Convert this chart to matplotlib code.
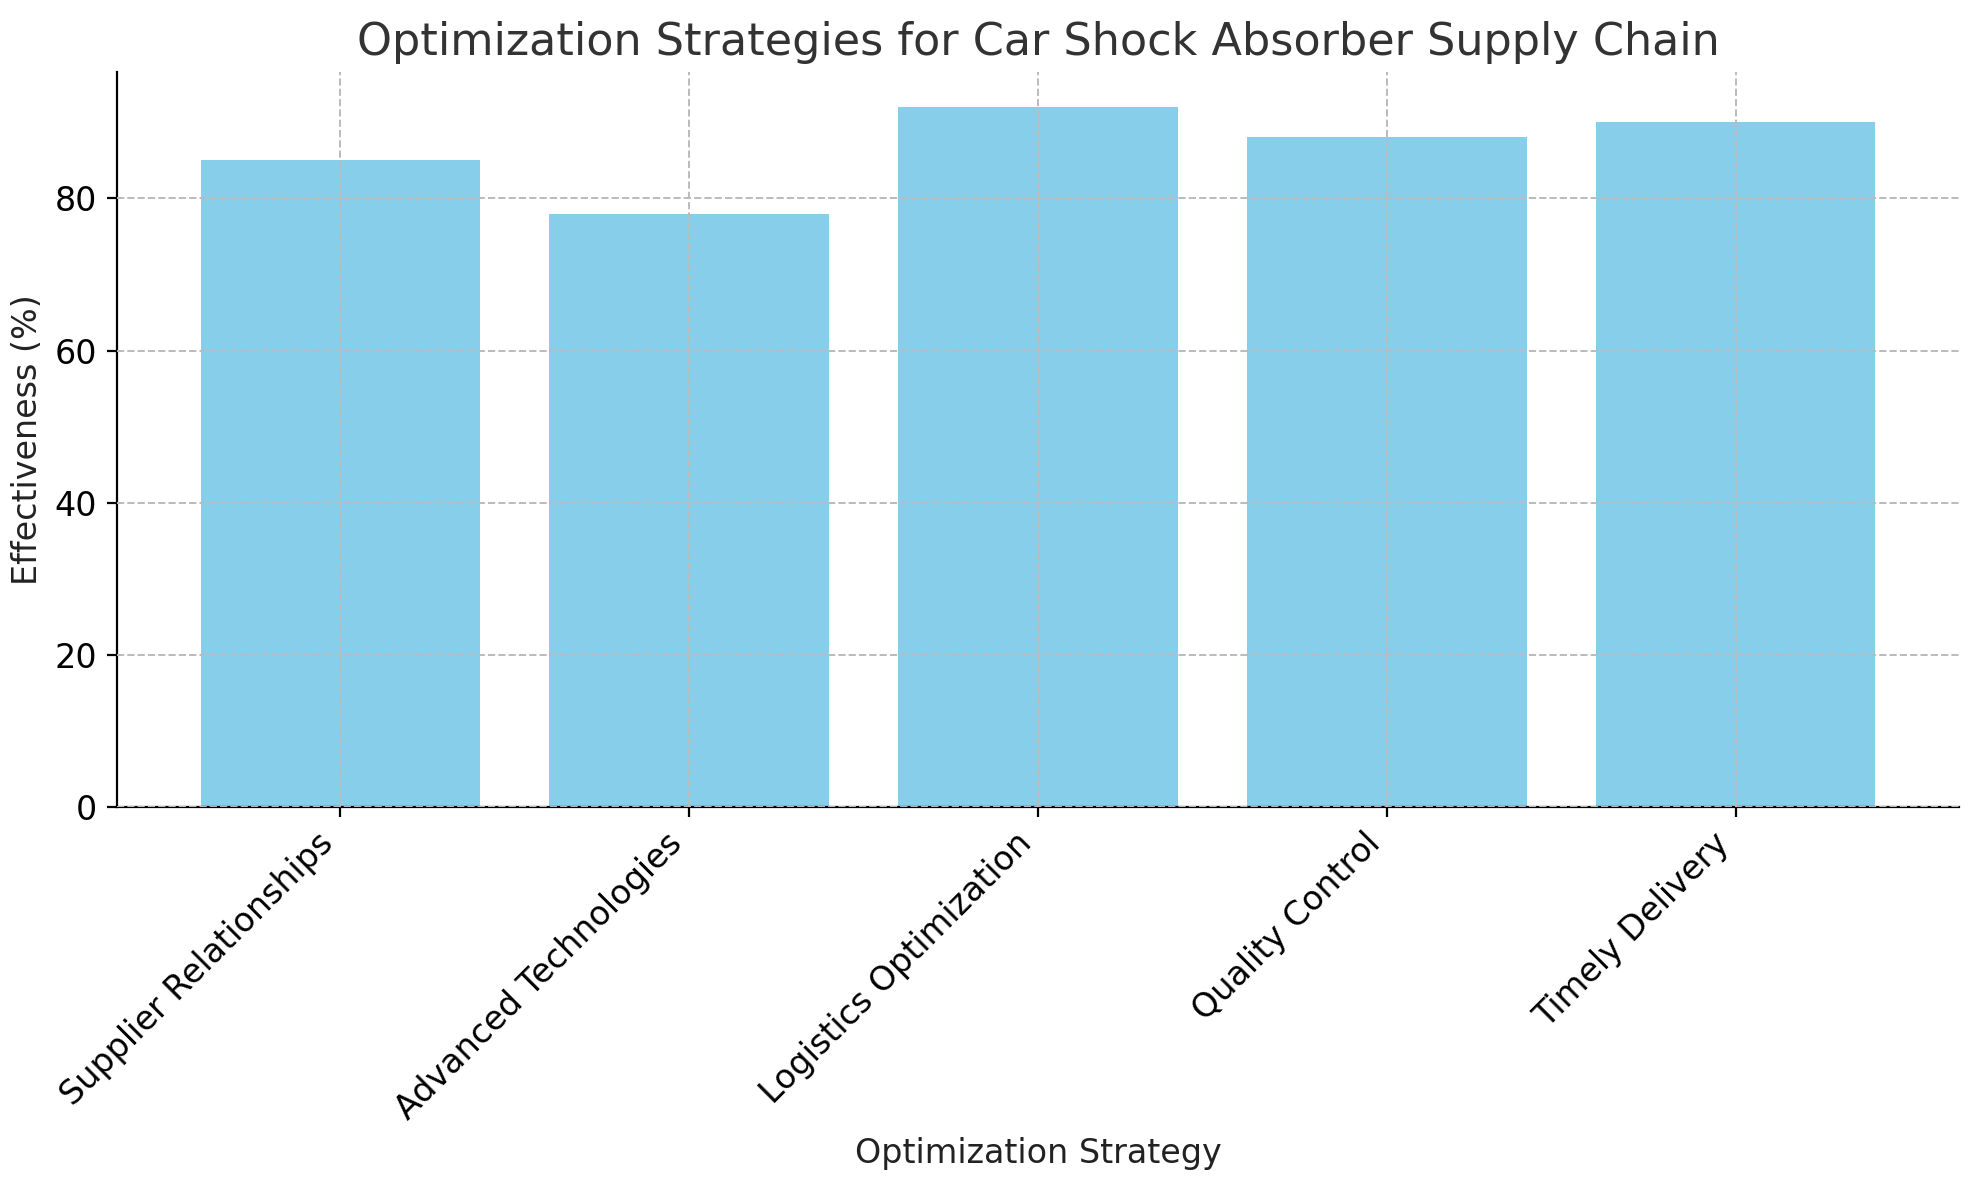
import matplotlib.pyplot as plt

strategies = ['Supplier Relationships', 'Advanced Technologies', 'Logistics Optimization',
              'Quality Control', 'Timely Delivery']
effectiveness = [85, 78, 92, 88, 90]

fig, ax = plt.subplots(figsize=(9.895, 5.9), dpi=200)
fig.subplots_adjust(left=0.059, right=0.99, top=0.939, bottom=0.316)

ax.bar(strategies, effectiveness, color='skyblue', zorder=2)
ax.grid(True, linestyle='--', color='#bbbbbb', linewidth=0.7, zorder=3)
ax.set_axisbelow(False)
for s in ['top', 'right']:
    ax.spines[s].set_visible(False)

ax.set_title('Optimization Strategies for Car Shock Absorber Supply Chain', fontsize=16, color='#333333')
ax.set_xlabel('Optimization Strategy', fontsize=12, color='#222222')
ax.set_ylabel('Effectiveness (%)', fontsize=12, color='#222222')
ax.tick_params(labelsize=12)
plt.setp(ax.get_xticklabels(), rotation=45, ha='right')

fig.savefig('out.png')
